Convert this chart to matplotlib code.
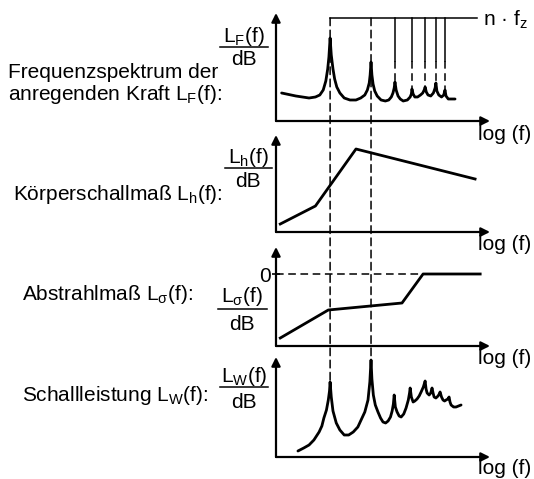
import numpy as np
import matplotlib
matplotlib.use('Agg')
import matplotlib.pyplot as plt
from matplotlib.patches import ConnectionPatch
from matplotlib.lines import Line2D
from matplotlib.ticker import NullLocator

plt.rcParams['font.family'] = ['Liberation Sans', 'DejaVu Sans']
plt.rcParams['mathtext.fontset'] = 'custom'
plt.rcParams['mathtext.rm'] = 'Liberation Sans'
plt.rcParams['mathtext.it'] = 'Liberation Sans:italic'
plt.rcParams['font.size'] = 15

# excitation harmonics n * f_z
f_z = 100.0
harmonics = np.arange(1, 8)
n_f_z = harmonics * f_z

# force spectrum L_F(f)
lf_freq = [44, 56, 70, 78, 84, 89, 93, 96, 98, 100,
           102, 105, 108, 112, 118, 127, 140, 155, 168, 180,
           188, 194, 197, 200, 203, 207, 213, 222, 237, 255,
           270, 282, 290, 296, 300, 306, 316, 328, 345, 370,
           388, 396, 400, 408, 420, 440, 462, 480, 492, 500,
           510, 525, 550, 575, 592, 600, 610, 630, 660, 685,
           700, 712, 740, 830]
lf_level = [28, 25, 23, 24, 26, 31, 40, 52, 64, 83,
            66, 52, 42, 34, 28, 23, 21, 21, 23, 26,
            31, 38, 46, 59, 46, 37, 30, 25, 21, 20,
            21, 24, 28, 33, 39, 31, 25, 22, 20, 21,
            24, 27, 32, 27, 24, 24, 26, 28, 31, 34,
            29, 26, 25, 28, 33, 38, 30, 26, 24, 26,
            31, 25, 22, 22]

# structure-borne transfer L_h(f)
lh_freq = [43, 78, 155, 1165]
lh_level = [8, 26, 83, 53]

# radiation ratio L_sigma(f), 0 dB at high frequencies
ls_freq = [43, 97, 338, 483, 1270]
ls_level = [-64, -36, -29, 0, 0]

# radiated sound power L_W(f)
lw_freq = [58, 64, 70, 76, 83, 87, 90, 94, 97, 99,
           100, 102, 105, 111, 118, 127, 137, 148, 160, 169,
           180, 190, 196, 200, 203, 208, 215, 225, 235, 245,
           256, 267, 278, 286, 292, 296, 302, 311, 322, 333,
           348, 362, 376, 384, 388, 396, 408, 420, 436, 452,
           467, 485, 500, 508, 517, 535, 550, 562, 572, 582,
           600, 622, 635, 644, 660, 677, 695, 713, 735, 750,
           762, 776, 810, 844, 880, 919]
lw_level = [6, 9, 12, 17, 25, 31, 39, 47, 57, 66,
            75, 60, 46, 34, 27, 22, 22, 25, 30, 37,
            45, 57, 75, 97, 78, 62, 52, 45, 39, 35,
            34, 36, 40, 46, 53, 62, 50, 45, 41, 40,
            43, 49, 57, 64, 69, 60, 55, 56, 58, 61,
            65, 70, 76, 68, 64, 62, 64, 69, 64, 60,
            59, 61, 63, 65, 60, 57, 56, 57, 58, 60,
            55, 52, 50, 50, 51, 52]

f_lim = (40, 1500)
top_line_level = 103
top_line_end = 1206
solid_until = 60

W, H = 534, 479
fx = lambda px: px / W
fy = lambda py: 1 - py / H

fig = plt.figure(figsize=(W / 100, H / 100), dpi=100)

dash = (0, (5, 3))
curve_lw = 2.0


def make_axes(top, bottom, ylim, label_gap=13):
    ax = fig.add_axes([fx(276), fy(bottom), 214 / W, (bottom - top) / H])
    ax.set_xscale('log')
    ax.set_xlim(f_lim)
    ax.set_ylim(ylim)
    ax.set_facecolor('none')
    for s in ax.spines.values():
        s.set_visible(False)
    ax.xaxis.set_major_locator(NullLocator())
    ax.xaxis.set_minor_locator(NullLocator())
    ax.yaxis.set_major_locator(NullLocator())
    ax.yaxis.set_minor_locator(NullLocator())
    arrow = dict(arrowstyle='-|>', lw=1.6, color='k', mutation_scale=13,
                 shrinkA=0, shrinkB=0)
    ax.annotate('', xy=(0, 1), xytext=(0, 0), xycoords='axes fraction',
                arrowprops=arrow)
    ax.annotate('', xy=(1, 0), xytext=(0, 0), xycoords='axes fraction',
                arrowprops=arrow)
    fig.text(fx(478), fy(bottom + label_gap), 'log (f)', ha='left', va='center')
    return ax


ax1 = make_axes(13, 121, (0, 108))
ax2 = make_axes(135, 232, (0, 97))
ax3 = make_axes(247, 346, (-72, 27))
ax4 = make_axes(357, 457, (0, 100), label_gap=11)

ax1.plot(lf_freq, lf_level, color='k', lw=curve_lw,
         solid_joinstyle='round', solid_capstyle='round')
ax2.plot(lh_freq, lh_level, color='k', lw=curve_lw)
ax3.plot(ls_freq, ls_level, color='k', lw=curve_lw)
ax4.plot(lw_freq, lw_level, color='k', lw=curve_lw,
         solid_joinstyle='round', solid_capstyle='round')

# n * f_z marker line and harmonic lines
ax1.plot([n_f_z[0], top_line_end], [top_line_level] * 2, color='k', lw=1.1)
ax1.text(top_line_end * 1.1, top_line_level - 2, 'n · f$_\\mathrm{z}$',
         ha='left', va='center')

lf_peaks = np.interp(np.log(n_f_z), np.log(lf_freq), lf_level)
lw_peaks = np.interp(np.log(n_f_z), np.log(lw_freq), lw_level)
for f, pk in zip(n_f_z[2:], lf_peaks[2:]):
    ax1.plot([f, f], [top_line_level, solid_until], color='k', lw=1.1)
    ax1.plot([f, f], [solid_until, pk], color='k', lw=1.1, ls=dash)

for f, pk in zip(n_f_z[:2], lw_peaks[:2]):
    con = ConnectionPatch(xyA=(f, top_line_level), coordsA=ax1.transData,
                          xyB=(f, pk), coordsB=ax4.transData,
                          color='k', lw=1.1, linestyle=dash)
    fig.add_artist(con)

# 0 dB reference of the radiation ratio
ax3.plot([f_lim[0], ls_freq[3]], [0, 0], color='k', lw=1.1, ls=dash)
ax3.set_yticks([0])
ax3.set_yticklabels(['0'])
ax3.tick_params(axis='y', length=6, width=1.2, direction='inout', pad=1)

# y labels as fractions  quantity / dB
fractions = [
    (r'L$_\mathrm{F}$(f)', 244, 42, 47, 65, 220, 268),
    (r'L$_\mathrm{h}$(f)', 248, 163, 168, 187, 225, 272),
    (r'L$_\mathrm{σ}$(f)', 242, 302, 309, 330, 218, 267),
    (r'L$_\mathrm{W}$(f)', 244, 382, 387, 408, 220, 268),
]
for num, cx, nb, ly, db, x0, x1 in fractions:
    fig.text(fx(cx), fy(nb), num, ha='center', va='baseline')
    fig.add_artist(Line2D([fx(x0), fx(x1)], [fy(ly)] * 2,
                          transform=fig.transFigure, color='k', lw=1.1))
    fig.text(fx(cx), fy(db), 'dB', ha='center', va='baseline')

# descriptions on the left
fig.text(fx(8), fy(78), 'Frequenzspektrum der', ha='left', va='baseline')
fig.text(fx(8), fy(100), r'anregenden Kraft L$_\mathrm{F}$(f):',
         ha='left', va='baseline')
fig.text(fx(13), fy(200), r'Körperschallmaß L$_\mathrm{h}$(f):',
         ha='left', va='baseline')
fig.text(fx(22), fy(300), r'Abstrahlmaß L$_\mathrm{σ}$(f):',
         ha='left', va='baseline')
fig.text(fx(22), fy(401), r'Schallleistung L$_\mathrm{W}$(f):',
         ha='left', va='baseline')

fig.savefig('out.png', dpi=100, facecolor='white')
